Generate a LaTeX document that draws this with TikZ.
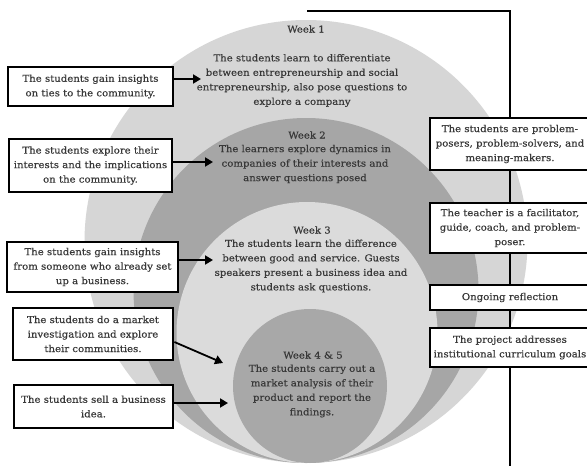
\documentclass[tikz,border=0pt]{standalone}
\usepackage{fontspec}
\setmainfont{DejaVu Serif}[FakeStretch=1.08,FakeBold=0.5]
\usetikzlibrary{arrows.meta}
\definecolor{lightring}{gray}{0.84}
\definecolor{darkring}{gray}{0.65}
\definecolor{lightin}{gray}{0.86}
\definecolor{darkin}{gray}{0.66}
\definecolor{txtcol}{gray}{0.22}
\begin{document}
\begin{tikzpicture}[x=1pt,y=-1pt,
  txt/.style={font=\fontsize{9.4}{14.5}\selectfont, text=txtcol, align=center, inner sep=0pt},
  boxed/.style={txt, draw=black, line width=2.8pt, fill=white},
  arr/.style={line width=1.8pt, -{Triangle[length=8pt,width=9pt]}},
  conn/.style={line width=2.4pt}
]
\clip (0,0) rectangle (587,466);
\fill[white] (0,0) rectangle (587,466);
% nested circles
\fill[lightring] (306,241.5) circle[radius=221.5pt];
\fill[darkring] (306,290.5) circle[radius=172.5pt];
\fill[lightin] (307,332.5) circle[radius=130.5pt];
\fill[darkin] (310,386) circle[radius=77pt];

% circle texts
\node[txt] (w1) at (306,29) {Week 1};
\node[txt] (w1t) at (302,80.5) {The students learn to differentiate\\between entrepreneurship and social\\entrepreneurship, also pose questions to\\explore a company};
\node[txt] (w2) at (307,135) {Week 2};
\node[txt] (w2t) at (305,164) {The learners explore dynamics in\\companies of their interests and\\answer questions posed};
\node[txt] (w3) at (312,230) {Week 3};
\node[txt] (w3t) at (311,266) {The students learn the difference\\between good and service. Guests\\speakers present a business idea and\\students ask questions.};
\node[txt] (w4) at (313,355) {Week 4 \& 5};
\node[txt] (w4t) at (312,391) {The students carry out a\\market analysis of their\\product and report the\\findings.};

% right column connector
\coordinate (t0) at (307,11);
\coordinate (t1) at (510,11);
\coordinate (bot) at (510,470);
\node[boxed, minimum width=160pt, minimum height=52pt] (ra) at (510,144) {The students are problem-\\posers, problem-solvers, and\\meaning-makers.};
\node[boxed, minimum width=160pt, minimum height=50pt] (rb) at (510,228) {The teacher is a facilitator,\\guide, coach, and problem-\\poser.};
\node[boxed, minimum width=160pt, minimum height=25pt] (rc) at (510,297.5) {Ongoing reflection};
\node[boxed, minimum width=160pt, minimum height=39pt] (rd) at (510,347.5) {The project addresses\\institutional curriculum goals};
\draw[conn] (t0) -| (ra.north);
\draw[conn] (ra) -- (rb);
\draw[conn] (rb) -- (rc);
\draw[conn] (rc) -- (rd);
\draw[conn] (rd) -- (bot);

% left boxes
\node[boxed, minimum width=165pt, minimum height=39pt] (l1) at (90.5,86.5) {The students gain insights\\on ties to the community.};
\node[boxed, minimum width=163pt, minimum height=53pt] (l2) at (90.5,165.5) {The students explore their\\interests and the implications\\on the community.};
\node[boxed, minimum width=171pt, minimum height=50pt] (l3) at (92.5,267) {The students gain insights\\from someone who already set\\up a business.};
\node[boxed, minimum width=160pt, minimum height=52pt] (l4) at (93,334) {The students do a market\\investigation and explore\\their communities.};
\node[boxed, minimum width=159pt, minimum height=43pt] (l5) at (93.5,406.5) {The students sell a business\\idea.};

\coordinate (e1) at (201,79);
\coordinate (e2) at (213,162);
\coordinate (e3) at (213,260);
\coordinate (e4) at (223,363);
\coordinate (e5) at (228,403);
\draw[arr] (l1.east |- e1) -- (e1);
\draw[arr] (l2.east |- e2) -- (e2);
\draw[arr] (l3.east |- e3) -- (e3);
\draw[arr] (l4.east |- 0,342) -- (e4);
\draw[arr] (l5.east |- e5) -- (e5);
\end{tikzpicture}
\end{document}
